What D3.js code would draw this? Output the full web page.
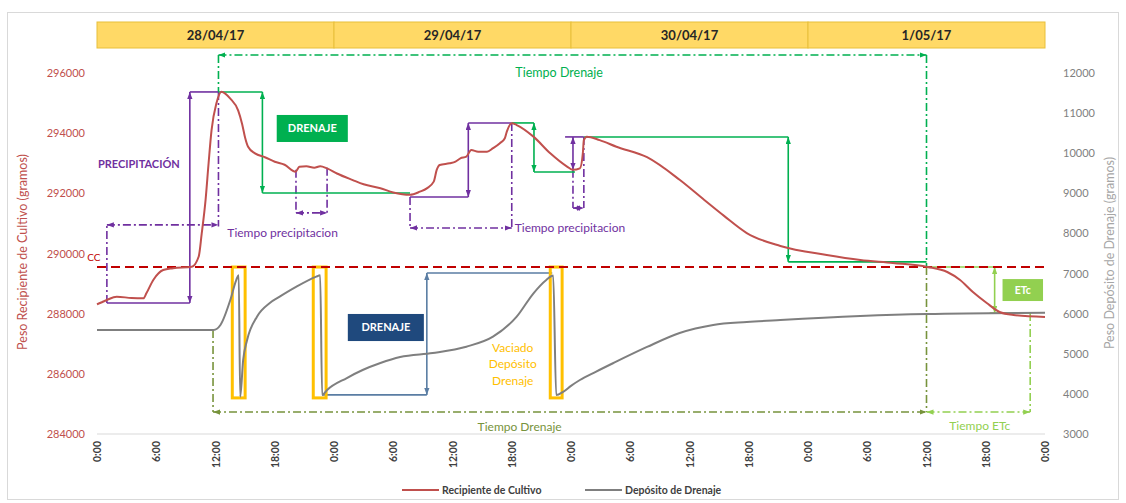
<!DOCTYPE html>
<html><head><meta charset="utf-8">
<script src="https://cdn.jsdelivr.net/npm/d3@7"></script>
<style>body{margin:0;background:#fff}svg{display:block;font-family:Lato,"Open Sans",sans-serif}</style>
</head><body><svg id="c" width="1126" height="503"></svg>
<script>
// ---- DATA ----
const dayLabels = ["28/04/17","29/04/17","30/04/17","1/05/17"];
const xTickHours = [0,6,12,18,24,30,36,42,48,54,60,66,72,78,84,90,96];
const xTickLabels = ["0:00","6:00","12:00","18:00","0:00","6:00","12:00","18:00","0:00","6:00","12:00","18:00","0:00","6:00","12:00","18:00","0:00"];
const leftTicks = [284000,286000,288000,290000,292000,294000,296000];
const rightTicks = [3000,4000,5000,6000,7000,8000,9000,10000,11000,12000];
const seriesNames = ["Recipiente de Cultivo","Depósito de Drenaje"];
const ccValue = 289550;

const cultivoHours = [0,0.5,1.0,2.0,3.5,4.7,5.0,5.7,6.7,7.7,9.6,10.3,10.6,11.0,11.3,11.6,12.1,12.6,13.5,14.3,14.7,15.0,15.3,16.0,17.0,18.0,19.0,20.1,20.5,21.2,22.0,22.6,23.3,24.3,25.9,27.0,28.7,30.0,31.7,32.7,33.4,34.1,34.4,34.7,35.7,36.3,36.8,37.4,37.9,38.6,39.5,40.1,40.8,41.3,41.5,42.0,42.5,44.2,45.9,47.6,48.2,48.9,49.2,49.3,49.6,50.9,52.6,55.7,59.0,61.5,63.5,65.8,69.2,73.9,77.3,80.6,84.1,86.1,87.4,88.7,90.1,91.4,92.8,96];
const cultivoGrams = [288310,288380,288455,288565,288520,288510,288676,289120,289450,289510,289560,289900,290650,291800,293000,294100,295000,295380,295150,294750,294300,293850,293550,293330,293200,293050,292950,292720,292880,292900,292850,292900,292830,292660,292440,292300,292170,292030,291950,292055,292166,292388,292777,292943,293000,293054,293165,293220,293440,293385,293385,293500,293665,293830,294050,294330,294270,293885,293330,292890,292780,292830,293340,293770,293885,293770,293550,293200,292450,291780,291250,290680,290250,289950,289785,289685,289552,289385,289120,288720,288355,288056,287956,287890];

const drenajeHours = [0,11.8,12.5,13.5,14.1,14.35,14.5,14.8,15.2,16.2,17.5,18.5,20.2,22.2,22.6,22.8,23.3,25.3,26.9,28.7,30.7,34.0,37.4,40.1,42.5,44.2,45.5,46.2,46.5,47.2,48.0,48.9,50.5,52.3,55.7,59.0,62.4,65.8,69.2,77.3,84.0,96];
const drenajeGrams = [5590,5593,5718,6341,6839,6960,3930,4845,5344,5925,6266,6423,6672,6922,6960,3970,4097,4396,4596,4770,4920,5019,5177,5426,5925,6508,6840,6950,3970,4050,4200,4346,4550,4770,5170,5518,5718,5792,5842,5940,5990,6020];

// ---- SCALES ----
const svg = d3.select("#c");
const X = d3.scaleLinear().domain([0,96]).range([97,1045]);
const YL = d3.scaleLinear().domain([284000,296000]).range([434,73]);
const YR = d3.scaleLinear().domain([3000,12000]).range([434,73]);

const C = {red:"#c0504d", gray:"#7f7f7f", cc:"#c00000", purple:"#7030a0", green:"#00b050",
  lime:"#92d050", olive:"#77933c", steel:"#5a7da3", navy:"#1f497d", yellow:"#ffc000"};

// border
svg.append("rect").attr("x",7.5).attr("y",12.5).attr("width",1111).attr("height",487)
  .attr("fill","none").attr("stroke","#d9d9d9");

// markers
const defs = svg.append("defs");
Object.entries(C).forEach(([k,col])=>{
  defs.append("marker").attr("id","ar-"+k).attr("viewBox","0 0 8 6").attr("refX",8).attr("refY",3)
    .attr("markerWidth",7).attr("markerHeight",5.5).attr("markerUnits","userSpaceOnUse")
    .attr("orient","auto-start-reverse")
    .append("path").attr("d","M0,0 L8,3 L0,6 z").attr("fill",col);
});

// header
const hdr = svg.append("g");
dayLabels.forEach((d,i)=>{
  hdr.append("rect").attr("x",X(i*24)).attr("y",22).attr("width",X((i+1)*24)-X(i*24)).attr("height",26)
    .attr("fill","#ffd966").attr("stroke","#e8bf3a").attr("stroke-width",1);
  hdr.append("text").attr("x",(X(i*24)+X((i+1)*24))/2).attr("y",40).attr("text-anchor","middle")
    .attr("font-size",13).attr("font-weight","bold").attr("fill","#262626").text(d);
});

// axes
svg.append("line").attr("x1",X(0)).attr("x2",X(96)).attr("y1",YL(284000)).attr("y2",YL(284000))
  .attr("stroke","#d9d9d9").attr("stroke-width",1);

const ax = svg.append("g").attr("transform",`translate(0,${YL(284000)})`)
  .call(d3.axisBottom(X).tickValues(xTickHours).tickFormat((d,i)=>xTickLabels[i]).tickSize(0));
ax.select(".domain").remove();
ax.selectAll("text").attr("transform","rotate(-90)").attr("text-anchor","end")
  .attr("x",-7).attr("y",0).attr("dy","0.35em")
  .attr("font-family","Lato,sans-serif").attr("font-size",10.5).attr("font-weight","bold").attr("fill","#404040");

const al = svg.append("g").attr("transform",`translate(${X(0)},0)`)
  .call(d3.axisLeft(YL).tickValues(leftTicks).tickFormat(d3.format("d")).tickSize(0).tickPadding(12));
al.select(".domain").remove();
al.selectAll("text").attr("font-family","Lato,sans-serif").attr("font-size",11).attr("fill","#c0504d");

const ar = svg.append("g").attr("transform",`translate(${X(96)},0)`)
  .call(d3.axisRight(YR).tickValues(rightTicks).tickFormat(d3.format("d")).tickSize(0).tickPadding(18));
ar.select(".domain").remove();
ar.selectAll("text").attr("font-family","Lato,sans-serif").attr("font-size",11).attr("fill","#808080");

svg.append("text").attr("transform",`translate(27,252) rotate(-90)`).attr("text-anchor","middle")
  .attr("font-size",12.5).attr("fill","#c0504d").text("Peso Recipiente de Cultivo (gramos)");
svg.append("text").attr("transform",`translate(1114,253) rotate(-90)`).attr("text-anchor","middle")
  .attr("font-size",12.5).attr("fill","#a6a6a6").text("Peso Depósito de Drenaje (gramos)");

// ---- annotations ----
const ann = svg.append("g");
const DD = "8,3,2,3";
function seg(h1,g1,h2,g2,col,opt={}){
  const l = ann.append("line").attr("x1",X(h1)).attr("y1",YL(g1)).attr("x2",X(h2)).attr("y2",YL(g2))
    .attr("stroke",C[col]).attr("stroke-width",opt.w||1.6);
  if(opt.dash) l.attr("stroke-dasharray",DD);
  if(opt.a1) l.attr("marker-start",`url(#ar-${col})`);
  if(opt.a2) l.attr("marker-end",`url(#ar-${col})`);
  return l;
}
function label(h,g,txt,col,opt={}){
  return ann.append("text").attr("x",X(h)).attr("y",YL(g)).attr("text-anchor",opt.anchor||"start")
    .attr("font-size",opt.size||12).attr("font-weight",opt.bold?"bold":"normal").attr("fill",opt.fill||C[col]).text(txt);
}
function box(h1,g1,h2,g2,col,txt,opt={}){
  ann.append("rect").attr("x",X(h1)).attr("y",YL(g1)).attr("width",X(h2)-X(h1)).attr("height",YL(g2)-YL(g1))
    .attr("fill",C[col]);
  ann.append("text").attr("x",(X(h1)+X(h2))/2).attr("y",(YL(g1)+YL(g2))/2).attr("dy","0.36em")
    .attr("text-anchor","middle").attr("font-size",opt.size||11).attr("font-weight","bold").attr("fill","#fff").text(txt);
}

// top Tiempo Drenaje (green)
const topG = 296600, botG = 284730;
seg(12.3,topG,84.0,topG,"green",{dash:1,a1:1,a2:1});
seg(12.3,topG,12.3,295370,"green",{dash:1});
seg(84.0,topG,84.0,ccValue,"green",{dash:1});
label(46.8,295880,"Tiempo Drenaje","green",{anchor:"middle",size:12.5});

// precipitation 1 (purple)
seg(9.4,288355,9.4,295370,"purple",{a1:1,a2:1});
seg(9.4,295370,12.3,295370,"purple");
seg(1.0,288355,9.4,288355,"purple");
seg(1.0,288355,1.0,290950,"purple",{dash:1});
seg(1.0,290950,12.3,290950,"purple",{dash:1,a1:1,a2:1});
seg(12.3,295370,12.3,290900,"purple",{dash:1});
label(0.1,292830,"PRECIPITACIÓN","purple",{bold:1,size:11});
label(13.2,290540,"Tiempo precipitacion","purple");
// small precip interval
seg(20.15,292780,20.15,291350,"purple",{dash:1});
seg(23.3,292850,23.3,291350,"purple",{dash:1});
seg(20.15,291350,23.3,291350,"purple",{dash:1,a1:1,a2:1});
// precipitation 2
seg(31.7,291880,37.6,291880,"purple");
seg(37.6,291880,37.6,294340,"purple",{a1:1,a2:1});
seg(37.6,294340,42.0,294340,"purple");
seg(31.7,291880,31.7,290850,"purple",{dash:1});
seg(42.0,294340,42.0,290850,"purple",{dash:1});
seg(31.7,290850,42.0,290850,"purple",{dash:1,a1:1,a2:1});
label(42.3,290700,"Tiempo precipitacion","purple");
// precipitation 3
seg(48.2,292780,48.2,293875,"purple",{a1:1,a2:1});
seg(47.4,293875,49.3,293875,"purple");
seg(48.2,292780,48.2,291510,"purple",{dash:1});
seg(49.3,293875,49.3,291510,"purple",{dash:1});
seg(48.2,291510,49.3,291510,"purple",{dash:1,a1:1,a2:1});

// drainage (green)
seg(12.3,295370,16.75,295370,"green");
seg(16.75,295370,16.75,292010,"green",{a1:1,a2:1});
seg(16.75,292010,31.7,292010,"green");
box(18.2,294605,25.4,293707,"green","DRENAJE");
seg(42.0,294340,44.25,294340,"green");
seg(44.25,294340,44.25,292710,"green",{a1:1,a2:1});
seg(44.25,292710,48.4,292710,"green");
seg(49.3,293875,70.0,293875,"green");
seg(70.0,293875,70.0,289720,"green",{a1:1,a2:1});
seg(70.0,289720,84.0,289720,"green");

// deposit drainage (steel/navy)
seg(22.8,285300,33.4,285300,"steel");
seg(33.4,285300,33.4,289350,"steel",{a1:1,a2:1});
seg(33.4,289350,46.1,289350,"steel");
box(25.4,287990,33.1,287090,"navy","DRENAJE");

// yellow emptying boxes
[[13.7,15.0],[21.9,23.2],[45.9,47.1]].forEach(([a,b])=>{
  ann.append("rect").attr("x",X(a)).attr("y",YL(289550)).attr("width",X(b)-X(a)).attr("height",YL(285200)-YL(289550))
    .attr("fill","none").attr("stroke",C.yellow).attr("stroke-width",3);
});
label(42.1,286740,"Vaciado","yellow",{anchor:"middle"});
label(42.1,286180,"Depósito","yellow",{anchor:"middle"});
label(42.1,285620,"Drenaje","yellow",{anchor:"middle"});

// bottom Tiempo Drenaje (olive)
seg(11.75,287460,11.75,botG,"olive",{dash:1});
seg(11.75,botG,84.0,botG,"olive",{dash:1,a1:1,a2:1});
seg(84.0,ccValue,84.0,botG,"olive",{dash:1});
label(42.8,284100,"Tiempo Drenaje","olive",{anchor:"middle"});

// ETc (lime)
seg(84.0,ccValue,90.9,ccValue,"lime");
seg(90.9,ccValue,90.9,288020,"lime",{a1:1,a2:1});
seg(90.4,288020,94.5,288020,"lime");
seg(94.5,288020,94.5,botG,"lime",{dash:1});
seg(84.0,botG,94.5,botG,"lime",{dash:1,a1:1,a2:1});
box(91.7,289150,95.8,288420,"lime","ETc",{size:10.5});
label(89.4,284130,"Tiempo ETc","lime",{anchor:"middle"});

// CC line
ann.append("line").attr("x1",X(0)).attr("x2",X(96)).attr("y1",YL(ccValue)).attr("y2",YL(ccValue))
  .attr("stroke",C.cc).attr("stroke-width",2).attr("stroke-dasharray","9,5");
label(0.35,289750,"CC","cc",{anchor:"end",size:10});

// ---- series ----
const lineL = d3.line().x(i=>X(cultivoHours[i])).y(i=>YL(cultivoGrams[i])).curve(d3.curveMonotoneX);
const lineR = d3.line().x(i=>X(drenajeHours[i])).y(i=>YR(drenajeGrams[i])).curve(d3.curveMonotoneX);
svg.append("path").attr("d",lineR(d3.range(drenajeHours.length))).attr("fill","none")
  .attr("stroke",C.gray).attr("stroke-width",2);
svg.append("path").attr("d",lineL(d3.range(cultivoHours.length))).attr("fill","none")
  .attr("stroke",C.red).attr("stroke-width",2);

// legend
const lg = svg.append("g");
const legendItems = [{x:402, col:C.red},{x:585, col:C.gray}];
legendItems.forEach((it,i)=>{
  lg.append("line").attr("x1",it.x).attr("x2",it.x+37).attr("y1",490).attr("y2",490)
    .attr("stroke",it.col).attr("stroke-width",2);
  lg.append("text").attr("x",it.x+40).attr("y",490).attr("dy","0.35em").attr("font-size",10.5)
    .attr("font-weight","bold").attr("fill","#404040").text(seriesNames[i]);
});
</script></body></html>
